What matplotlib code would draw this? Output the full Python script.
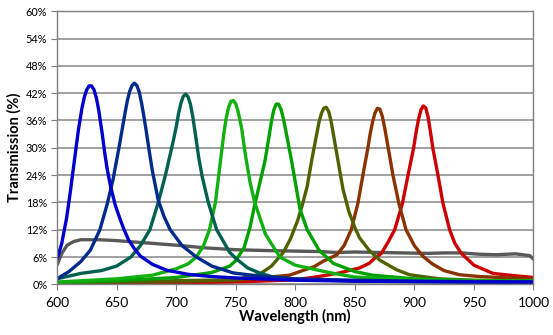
import matplotlib.pyplot as plt

plt.rcParams['font.family'] = ['Lato', 'DejaVu Sans']

# ---- data (wavelength nm, transmission %) ----
grey_wl = [600, 604, 608.5, 614, 620, 635, 650, 675, 700, 725, 750, 779, 800, 820, 835,
           850, 870, 890, 911, 925, 940, 955, 969, 985, 997, 1000]
grey_t = [4.2, 6.8, 8.6, 9.4, 9.8, 9.8, 9.6, 9.1, 8.6, 8.0, 7.6, 7.4, 7.3, 7.2, 7.0,
          7.1, 7.0, 6.9, 6.8, 6.9, 6.9, 6.6, 6.5, 6.7, 6.3, 5.5]

red_wl = [600, 700, 760, 800, 817, 837, 854, 862, 867, 872.3, 878, 883.5, 890, 894.7, 899.4,
          901.5, 903.5, 905.5, 907.5, 909.5, 911.5, 913.5, 915.6, 919.8, 924, 929.6, 934, 939.4,
          950, 966, 980, 1000]
red_t = [0.1, 0.3, 0.6, 1.0, 1.6, 2.5, 3.6, 4.6, 5.8, 6.8, 9.3, 12.0, 17.8, 24.0, 30.0,
         33.5, 36.3, 38.3, 39.2, 38.8, 36.8, 33.5, 29.8, 24.0, 17.8, 12.0, 9.0, 6.8,
         4.2, 2.4, 2.0, 1.5]

brown_wl = [600, 700, 750, 795, 816, 823, 835, 841, 847, 852.6, 856.8, 861, 863, 865, 867,
            869, 871, 873, 875, 877.7, 882, 887, 893, 900, 907, 915, 925, 938, 955, 980, 1000]
brown_t = [0.2, 0.5, 0.9, 2.0, 3.9, 5.0, 6.5, 8.5, 12.0, 17.8, 24.0, 30.0, 33.2, 35.8, 37.7,
           38.7, 38.5, 37.0, 34.5, 30.5, 24.0, 17.8, 12.0, 8.5, 6.2, 4.5, 3.0, 2.1, 1.7, 1.4, 1.2]

olive_wl = [600, 700, 750, 770, 780, 790, 796, 802, 806, 810, 814, 818, 820, 822, 824,
            826, 828, 830, 833, 836, 840, 845, 850, 854, 862, 871, 885, 896, 921, 950, 1000]
olive_t = [0.3, 0.8, 1.0, 2.2, 4.0, 7.0, 10.0, 14.0, 17.5, 21.5, 27.5, 33.0, 35.7, 37.6, 38.7,
           38.9, 38.0, 36.0, 31.5, 27.0, 21.0, 16.0, 12.5, 10.2, 7.5, 5.3, 3.2, 2.1, 1.2, 0.9, 0.7]

green2_wl = [600, 650, 700, 730, 745, 750, 757, 762, 766, 770, 774.5, 778, 780, 782, 784,
             786, 788, 790, 793, 797, 800, 804, 810, 820, 832, 850, 865, 900, 950, 1000]
green2_t = [0.4, 0.8, 1.5, 2.6, 4.0, 5.2, 8.0, 12.5, 17.5, 22.0, 27.0, 32.5, 35.8, 38.3, 39.6,
            39.6, 38.5, 36.5, 32.5, 27.0, 22.5, 16.5, 12.0, 7.5, 4.6, 2.8, 2.0, 1.2, 0.8, 0.7]

green1_wl = [600, 650, 680, 700, 710, 717, 723, 728, 733, 736, 740, 742, 744, 746, 748,
             750, 752, 755, 758, 762, 766, 775, 787, 800, 830, 850, 900, 950, 1000]
green1_t = [0.5, 1.2, 2.0, 3.4, 4.5, 6.0, 8.5, 12.0, 18.0, 24.5, 33.0, 36.5, 38.9, 40.2, 40.4,
            39.7, 38.0, 34.3, 28.7, 22.5, 18.0, 11.0, 6.0, 4.2, 2.5, 1.6, 1.0, 0.8, 0.7]

teal_wl = [600, 620, 637, 650, 662, 670, 678, 685, 691, 695, 698, 700, 702, 704, 706,
           708, 710, 712, 714, 716, 719, 722, 727, 734, 745, 751, 760, 770, 780, 800,
           850, 900, 950, 1000]
teal_t = [1.2, 2.4, 3.0, 4.0, 6.0, 8.5, 12.0, 18.0, 24.0, 28.5, 32.0, 34.5, 37.5, 39.8, 41.3,
          41.8, 41.2, 39.6, 36.8, 33.3, 27.8, 23.5, 18.0, 12.0, 7.0, 5.5, 3.6, 2.5, 1.7, 1.1,
          0.7, 0.6, 0.5, 0.5]

navy_wl = [600, 610, 620, 628, 636, 642, 647, 652, 655, 657, 659, 661, 663, 665, 667,
           669, 671, 673, 675, 677, 680, 685, 690, 695, 705, 717, 730, 748, 770, 800,
           850, 900, 950, 1000]
navy_t = [1.2, 2.8, 5.0, 7.5, 12.0, 17.5, 23.0, 30.0, 34.5, 37.5, 40.3, 42.4, 43.7, 44.2, 43.7,
          42.3, 39.8, 36.8, 33.5, 30.0, 25.0, 18.5, 14.8, 12.0, 8.5, 6.0, 4.0, 2.5, 1.8, 1.2,
          0.9, 0.7, 0.6, 0.5]

blue_wl = [600, 604, 608, 611, 615, 618, 621, 623, 625, 627, 629, 631, 633, 635, 638,
           640, 642, 645, 649, 653, 656, 660, 665, 670, 680, 692, 710, 730, 750, 800,
           850, 900, 950, 1000]
blue_t = [5.5, 9.0, 14.5, 20.0, 28.0, 34.0, 38.8, 41.2, 42.8, 43.6, 43.6, 42.8, 41.0, 38.3, 33.0,
          29.0, 25.5, 21.5, 17.3, 14.3, 12.2, 9.8, 7.8, 6.2, 4.4, 3.1, 2.2, 1.7, 1.4, 0.9,
          0.7, 0.6, 0.5, 0.5]

y_ticks = [0, 6, 12, 18, 24, 30, 36, 42, 48, 54, 60]
y_tick_labels = ["0%", "6%", "12%", "18%", "24%", "30%", "36%", "42%", "48%", "54%", "60%"]
x_ticks = [600, 650, 700, 750, 800, 850, 900, 950, 1000]

series = [
    (grey_wl, grey_t, "#595959"),
    (red_wl, red_t, "#CC0000"),
    (brown_wl, brown_t, "#8B3300"),
    (olive_wl, olive_t, "#4F6200"),
    (green2_wl, green2_t, "#00A000"),
    (green1_wl, green1_t, "#10B010"),
    (teal_wl, teal_t, "#006050"),
    (navy_wl, navy_t, "#002A8C"),
    (blue_wl, blue_t, "#0000CC"),
]

fig = plt.figure(figsize=(5.53, 3.35), dpi=100)
ax = fig.add_axes([0.1031, 0.1513, 0.8616, 0.815])

for wl, t, c in series:
    ax.plot(wl, t, color=c, lw=2.4, solid_joinstyle="round", solid_capstyle="round")

ax.set_xlim(600, 1000)
ax.set_ylim(0, 60)
ax.set_xticks(x_ticks)
ax.set_yticks(y_ticks)
ax.set_yticklabels(y_tick_labels)
ax.tick_params(axis="x", labelsize=10, length=4, color="#808080", pad=5)
ax.tick_params(axis="y", labelsize=7.8, length=4, color="#808080", pad=3)

ax.grid(axis="y", color="#999999", lw=1.3)
ax.set_axisbelow(True)
for s in ax.spines.values():
    s.set_color("#808080")
    s.set_linewidth(1.0)

ax.set_xlabel("Wavelength (nm)", fontsize=10.5, fontweight="bold", labelpad=0)
ax.set_ylabel("Transmission (%)", fontsize=10.5, fontweight="bold", labelpad=3)

fig.savefig("out.png", dpi=100)
